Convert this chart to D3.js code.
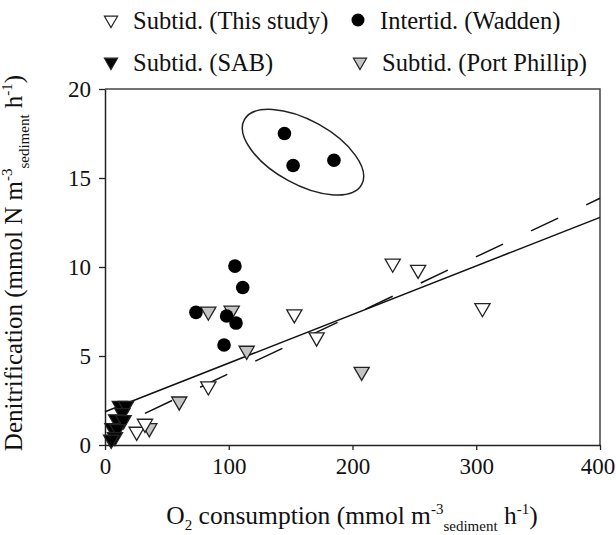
<!DOCTYPE html>
<html>
<head>
<meta charset="utf-8">
<script src="https://cdn.jsdelivr.net/npm/d3@7"></script>
<style>
  body { margin: 0; background: #fff; }
  svg text { font-family: "Liberation Serif", "Times New Roman", serif; fill: #111; }
</style>
</head>
<body>
<svg id="chart" width="616" height="535"></svg>
<script>
// values
const thisStudy = [[25.6, 0.75], [32.3, 1.2], [83.5, 3.3], [153, 7.35], [171, 6.05], [232.5, 10.2], [253, 9.85], [305, 7.7]]
const wadden = [[73.5, 7.45], [96.2, 5.62], [98.3, 7.25], [105, 10.05], [105.9, 6.85], [111.3, 8.85], [145, 17.5], [152, 15.7], [185, 16.0]]
const sab = [[12, 2.2], [17, 2.2], [14, 1.8], [9, 1.45], [15, 1.4], [6, 0.95], [10, 0.9], [8, 0.45], [5, 0.3]]
const portPhillip = [[35.8, 0.95], [60, 2.45], [83.5, 7.5], [102.4, 7.55], [114.5, 5.3], [207.4, 4.12]]

const solidFit = [[0, 1.87], [400, 12.79]]
const dashedFit = [[32.3, 1.78], [400, 13.86]]

const xTicks = [0, 100, 200, 300, 400]
const yTicks = [0, 5, 10, 15, 20]

// circled group (centre in data units)
const ellipseCentre = [160, 16.45]

const svg = d3.select('#chart')

const x = d3.scaleLinear().domain([0, 400]).range([105, 600])
const y = d3.scaleLinear().domain([0, 20]).range([445, 89])

// frame top + right
svg.append('path')
  .attr('d', `M${x(0)},${y(20)}H${x(400)}V${y(0)}`)
  .attr('fill', 'none')
  .attr('stroke', '#444')
  .attr('stroke-width', 1.5)

const xAxis = svg.append('g')
  .attr('transform', `translate(0,${y(0)})`)
  .call(d3.axisBottom(x).tickValues(xTicks).tickSize(5).tickSizeOuter(0).tickPadding(8))
const yAxis = svg.append('g')
  .attr('transform', `translate(${x(0)},0)`)
  .call(d3.axisLeft(y).tickValues(yTicks).tickSize(6).tickSizeOuter(0).tickPadding(8))

;[xAxis, yAxis].forEach(g => {
  g.select('.domain').attr('stroke', '#222').attr('stroke-width', 1.5)
  g.selectAll('.tick line').attr('stroke', '#222').attr('stroke-width', 1.3)
  g.selectAll('.tick text')
    .attr('font-family', '"Liberation Serif", serif')
    .attr('font-size', 23)
    .attr('fill', '#111')
})
// last x label sits right at the page edge
xAxis.selectAll('.tick text').filter(d => d === 400).attr('dx', -2.5)

// regression lines
const line = d3.line().x(d => x(d[0])).y(d => y(d[1]))
svg.append('path')
  .attr('d', line(solidFit))
  .attr('fill', 'none').attr('stroke', '#111').attr('stroke-width', 1.5)
svg.append('path')
  .attr('d', line(dashedFit))
  .attr('fill', 'none').attr('stroke', '#111').attr('stroke-width', 1.5)
  .attr('stroke-dasharray', '30,31')

// ellipse round the three high Wadden points
svg.append('ellipse')
  .attr('transform', `translate(${x(ellipseCentre[0])},${y(ellipseCentre[1])}) rotate(29)`)
  .attr('rx', 67).attr('ry', 32)
  .attr('fill', 'none').attr('stroke', '#222').attr('stroke-width', 1.5)

const tri = d3.symbol().type(d3.symbolTriangle).size(100)

function triangles(data, fill) {
  svg.append('g')
    .selectAll('path')
    .data(data)
    .enter()
    .append('path')
    .attr('d', tri)
    .attr('transform', d => `translate(${x(d[0])},${y(d[1])}) rotate(180)`)
    .attr('fill', fill)
    .attr('stroke', '#222')
    .attr('stroke-width', 1.3)
}

triangles(portPhillip, '#c4c4c4')
triangles(thisStudy, '#fff')
triangles(sab, '#000')

svg.append('g')
  .selectAll('circle')
  .data(wadden)
  .enter()
  .append('circle')
  .attr('cx', d => x(d[0]))
  .attr('cy', d => y(d[1]))
  .attr('r', 6.8)
  .attr('fill', '#000')

// legend
const legendItems = [
  { label: 'Subtid. (This study)', kind: 'tri', fill: '#fff', lx: 111, ly: 20 },
  { label: 'Intertid. (Wadden)', kind: 'circle', fill: '#000', lx: 358, ly: 20 },
  { label: 'Subtid. (SAB)', kind: 'tri', fill: '#000', lx: 111, ly: 62 },
  { label: 'Subtid. (Port Phillip)', kind: 'tri', fill: '#c4c4c4', lx: 360, ly: 62 }
]
const legend = svg.append('g')
legendItems.forEach(it => {
  if (it.kind === 'tri') {
    legend.append('path')
      .attr('d', d3.symbol().type(d3.symbolTriangle).size(75)())
      .attr('transform', `translate(${it.lx},${it.ly}) rotate(180)`)
      .attr('fill', it.fill).attr('stroke', '#222').attr('stroke-width', 1.2)
  } else {
    legend.append('circle')
      .attr('cx', it.lx).attr('cy', it.ly).attr('r', 6.5).attr('fill', it.fill)
  }
  legend.append('text')
    .attr('x', it.lx + 22).attr('y', it.ly + 9)
    .attr('font-size', 24.5)
    .text(it.label)
})

// axis titles
const xt = svg.append('text')
  .attr('x', 352).attr('y', 524)
  .attr('text-anchor', 'middle')
  .attr('font-size', 25.5)
xt.append('tspan').text('O')
xt.append('tspan').attr('font-size', 15).attr('dy', 6).text('2')
xt.append('tspan').attr('dy', -6).text(' consumption (mmol m')
xt.append('tspan').attr('font-size', 15).attr('dy', -10).text('-3')
xt.append('tspan').attr('font-size', 15).attr('dy', 17).text('sediment')
xt.append('tspan').attr('dy', -7).text(' h')
xt.append('tspan').attr('font-size', 15).attr('dy', -10).text('-1')
xt.append('tspan').attr('dy', 10).text(')')

const yt = svg.append('text')
  .attr('transform', 'translate(22,263) rotate(-90)')
  .attr('text-anchor', 'middle')
  .attr('font-size', 25)
yt.append('tspan').text('Denitrification (mmol N m')
yt.append('tspan').attr('font-size', 15).attr('dy', -10).text('-3')
yt.append('tspan').attr('font-size', 15).attr('dy', 17).text('sediment')
yt.append('tspan').attr('dy', -7).text(' h')
yt.append('tspan').attr('font-size', 15).attr('dy', -10).text('-1')
yt.append('tspan').attr('dy', 10).text(')')
</script>
</body>
</html>
